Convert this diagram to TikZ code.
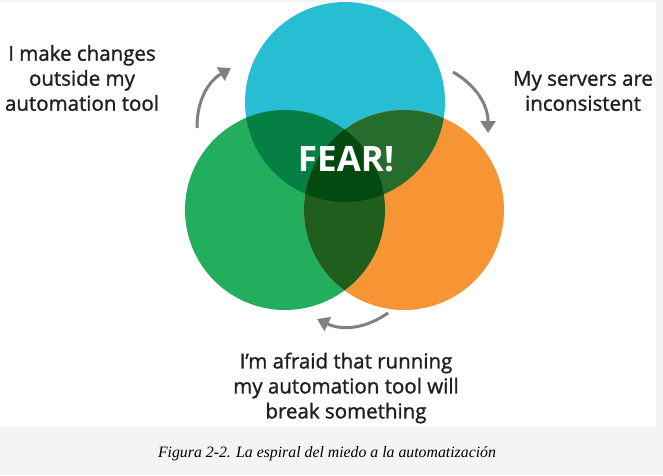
\documentclass[tikz,border=0pt]{standalone}
\usepackage{fontspec}
\setmainfont{Open Sans}
\newfontfamily\worryfont{Open Sans}[FakeBold=1.3]
\newfontfamily\capfont{Liberation Serif}
\usetikzlibrary{arrows.meta}
\definecolor{pagegray}{HTML}{F4F4F4}
\definecolor{loopgray}{HTML}{808184}
\definecolor{labeltext}{HTML}{231F20}
\definecolor{fearblue}{HTML}{27BDD3}
\definecolor{feargreen}{HTML}{22AE5D}
\definecolor{fearorange}{HTML}{F79433}
\definecolor{bluegreen}{HTML}{067F45}
\definecolor{blueorange}{HTML}{266C2C}
\definecolor{greenorange}{HTML}{1F5E1C}
\definecolor{allthree}{HTML}{024A10}
\begin{document}
\begin{tikzpicture}[x=1pt,y=-1pt,
  loop/.style={draw=loopgray,line width=3pt,-{Triangle[length=12pt,width=15pt]}},
  worry/.style={align=center,text=labeltext,font=\worryfont\fontsize{20.5}{25}\selectfont}]
  % page and white panel
  \fill[pagegray] (0,0) rectangle (663,475);
  \fill[white] (0,1.5) rectangle (656,427);
  % the three circles
  \coordinate (blue) at (345,102);
  \coordinate (green) at (285,210);
  \coordinate (orange) at (404,210);
  \fill[fearblue] (blue) circle (100pt);
  \fill[feargreen] (green) circle (100pt);
  \fill[fearorange] (orange) circle (100pt);
  \begin{scope}
    \clip (blue) circle (100pt);
    \fill[bluegreen] (green) circle (100pt);
    \fill[blueorange] (orange) circle (100pt);
  \end{scope}
  \begin{scope}
    \clip (green) circle (100pt);
    \fill[greenorange] (orange) circle (100pt);
    \clip (orange) circle (100pt);
    \fill[allthree] (blue) circle (100pt);
  \end{scope}
  \node[text=white,font=\fontsize{35}{35}\selectfont\bfseries] (fear) at (346,159) {FEAR!};
  % labels
  \node[worry] (changes) at (82,78) {I make changes\\outside my\\automation tool};
  \node[worry] (servers) at (583,91) {My servers are\\inconsistent};
  \node[worry] (afraid) at (346,388) {I’m afraid that running\\my automation tool will\\break something};
  % loop arrows
  \coordinate (l1) at (197,128);
  \coordinate (l2) at (231,68);
  \coordinate (r1) at (453,72);
  \coordinate (r2) at (488,133);
  \coordinate (b1) at (388,313);
  \coordinate (b2) at (317,319);
  \draw[loop] (l1) to[bend left=30] (l2);
  \draw[loop] (r1) to[bend left=30] (r2);
  \draw[loop] (b1) to[bend left=30] (b2);
  % caption
  \node[font=\capfont\itshape\fontsize{15.8}{18}\selectfont] (caption) at (327,454)
    {Figura 2-2. La espiral del miedo a la automatización};
\end{tikzpicture}
\end{document}
